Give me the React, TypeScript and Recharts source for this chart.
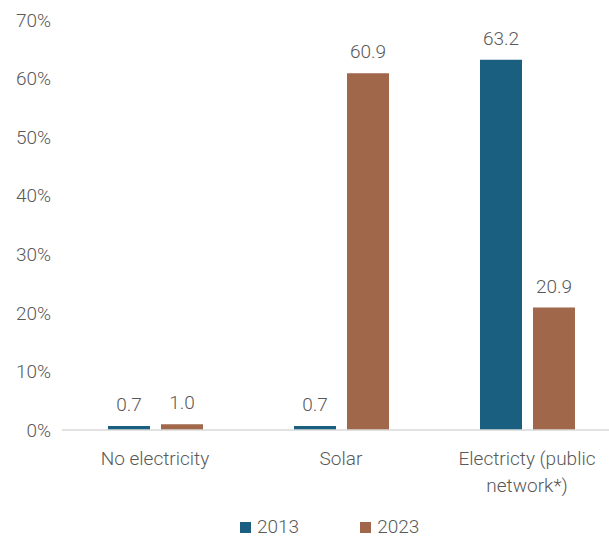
import { BarChart, Bar, XAxis, YAxis, LabelList, Legend } from 'recharts';

const categories = ['No electricity', 'Solar', 'Electricty (public network*)'];
const values2013 = [0.7, 0.7, 63.2];
const values2023 = [1.0, 60.9, 20.9];
const yTicks = [0, 10, 20, 30, 40, 50, 60, 70];

const BLUE = '#1a5f7f';
const BROWN = '#a0674b';
const TEXT = '#595959';
const FONT = 'Roboto, sans-serif';
const FS = 19;

const data = categories.map((name, i) => ({
  name,
  y2013: values2013[i],
  y2023: values2023[i],
}));

function CategoryTick({ x, y, payload }: any) {
  const label: string = payload.value;
  const lines = label === 'Electricty (public network*)' ? ['Electricty (public', 'network*)'] : [label];
  return (
    <text x={x} y={y} textAnchor="middle" fill={TEXT} fontSize={FS} fontWeight={300} fontFamily={FONT}>
      {lines.map((l, i) => (
        <tspan key={i} x={x} dy={27}>{l}</tspan>
      ))}
    </text>
  );
}

function LegendContent() {
  const items = [
    { label: '2013', color: BLUE },
    { label: '2023', color: BROWN },
  ];
  return (
    <div style={{ display: 'flex', gap: 61, paddingLeft: 240, paddingTop: 17, height: 20 }}>
      {items.map(it => (
        <div key={it.label} style={{ display: 'flex', alignItems: 'center', gap: 6 }}>
          <span style={{ width: 11, height: 11, background: it.color, display: 'inline-block' }} />
          <span style={{ fontFamily: FONT, fontWeight: 300, fontSize: FS, color: TEXT, lineHeight: '20px' }}>{it.label}</span>
        </div>
      ))}
    </div>
  );
}

export default function App() {
  return (
    <div style={{ position: 'absolute', left: 0, top: 0, width: 609, height: 537, background: '#fff' }}>
      <BarChart
        width={609}
        height={537}
        data={data}
        margin={{ top: 20, right: -11, left: 0, bottom: 0 }}
        barGap={11}
        barSize={42}
      >
        <XAxis
          dataKey="name"
          axisLine={{ stroke: '#d9d9d9', strokeWidth: 1.5 }}
          tickLine={false}
          height={70}
          interval={0}
          tick={<CategoryTick />}
        />
        <YAxis
          width={62}
          domain={[0, 70]}
          ticks={yTicks}
          axisLine={false}
          tickLine={false}
          tickMargin={5}
          tickFormatter={v => `${v}%`}
          tick={{ fill: TEXT, fontSize: FS, fontWeight: 300, fontFamily: FONT }}
        />
        <Legend verticalAlign="bottom" align="left" height={37} content={<LegendContent />} />
        <Bar dataKey="y2013" fill={BLUE} isAnimationActive={false}>
          <LabelList
            dataKey="y2013"
            position="top"
            offset={15}
            formatter={(v: any) => Number(v).toFixed(1)}
            style={{ fill: TEXT, fontSize: FS, fontWeight: 300, fontFamily: FONT }}
          />
        </Bar>
        <Bar dataKey="y2023" fill={BROWN} isAnimationActive={false}>
          <LabelList
            dataKey="y2023"
            position="top"
            offset={15}
            formatter={(v: any) => Number(v).toFixed(1)}
            style={{ fill: TEXT, fontSize: FS, fontWeight: 300, fontFamily: FONT }}
          />
        </Bar>
      </BarChart>
    </div>
  );
}
